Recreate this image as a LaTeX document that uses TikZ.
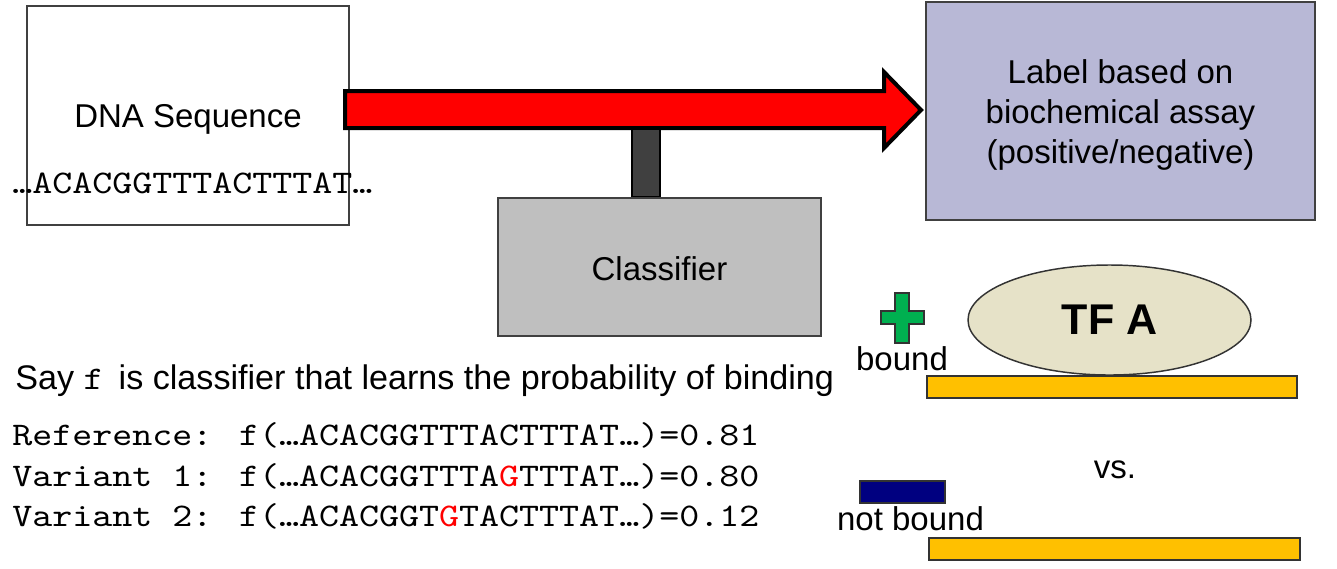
\documentclass[tikz,border=0pt]{standalone}
\usepackage{fontspec}
\setmainfont{Liberation Sans}
\newfontfamily\codefont{lmmono10-regular.otf}[FakeStretch=1.155]
\usetikzlibrary{positioning,shapes.geometric}

\definecolor{assayblue}{HTML}{B8B8D6}
\definecolor{clfgray}{HTML}{BFBFBF}
\definecolor{stemgray}{HTML}{404040}
\definecolor{tfbeige}{HTML}{E6E2C8}
\definecolor{dnayellow}{HTML}{FFC000}
\definecolor{plusgreen}{HTML}{00B050}
\definecolor{navyblock}{HTML}{000080}

\newcommand{\mono}[1]{{\codefont\fontsize{24.75}{30}\selectfont #1}}
\newcommand{\mut}[1]{\textcolor{red}{#1}}

\begin{document}
\begin{tikzpicture}[x=0.75pt,y=-0.75pt,
  font=\fontsize{24.75}{30}\selectfont,align=center,
  box/.style={draw=black!75,line width=1.1pt,inner sep=0pt},
  dnabar/.style={draw=black!80,line width=1.1pt,fill=dnayellow,
    minimum width=277.5pt,minimum height=16.5pt,inner sep=0pt},
  codeline/.style={anchor=base west,inner sep=0pt}
  ]
  \useasboundingbox (0,0) rectangle (1337,568);

  \node[box,minimum width=241.5pt,minimum height=164.25pt,
    label={[yshift=-3pt]center:DNA Sequence}] (dna) at (188,115.5) {};
  \node[codeline] (seq) at (12,193) {\mono{…ACACGGTTTACTTTAT…}};
  \node[box,fill=assayblue,line width=1.5pt,minimum width=291.75pt,minimum height=163.5pt,
    label={[align=center,yshift=-3pt]center:Label based on\\biochemical assay\\(positive/negative)}]
    (assay) at (1120.5,111) {};

  \draw[fill=red,line width=3pt,line join=miter] (345,91) -- (884,91) -- (884,72) -- (921,110)
    -- (884,148) -- (884,128) -- (345,128) -- cycle;
  \node[draw=black,fill=stemgray,line width=2.2pt,minimum width=21pt,minimum height=51pt,inner sep=0pt]
    (stem) at (646,163) {};
  \node[box,fill=clfgray,minimum width=242.25pt,minimum height=103.5pt,
    label={[yshift=-1pt]center:Classifier}] (clf) at (659.5,267) {};

  \node[ellipse,draw=black!80,line width=1.1pt,fill=tfbeige,minimum width=212.25pt,minimum height=82.5pt,
    inner sep=0pt,font=\bfseries\fontsize{32.25}{36}\selectfont] (tf) at (1109.5,320) {TF A};
  \node[dnabar] (boundbar) at (1112,387) {};
  \node[dnabar,minimum width=278.25pt] (freebar) at (1114.5,549) {};

  \draw[draw=black!80,fill=plusgreen,line width=1.1pt] (895,293) -- (909,293) -- (909,311) -- (924,311)
    -- (924,324) -- (909,324) -- (909,343) -- (895,343) -- (895,324) -- (881,324) -- (881,311)
    -- (895,311) -- cycle;
  \node[anchor=base] (bound) at (902,370) {bound};
  \node[draw=black!80,fill=navyblock,line width=1.1pt,minimum width=63.75pt,minimum height=16.5pt,
    inner sep=0pt] (nb) at (902.5,492) {};
  \node[below=2pt of nb,xshift=6pt,inner sep=0pt] (notbound) {not bound};
  \node (vs) at (1115,470) {vs.};

  \node[codeline,font=\fontsize{25.6}{30}\selectfont] (say) at (15,389)
    {Say \mono{f}\, is classifier that learns the probability of binding};
  \node[codeline] (ref) at (12,445) {\mono{Reference: f(…ACACGGTTTACTTTAT…)=0.81}};
  \node[codeline] (var1) at (12,486) {\mono{Variant 1: f(…ACACGGTTTA\mut{G}TTTAT…)=0.80}};
  \node[codeline] (var2) at (12,526) {\mono{Variant 2: f(…ACACGGT\mut{G}TACTTTAT…)=0.12}};
\end{tikzpicture}
\end{document}
